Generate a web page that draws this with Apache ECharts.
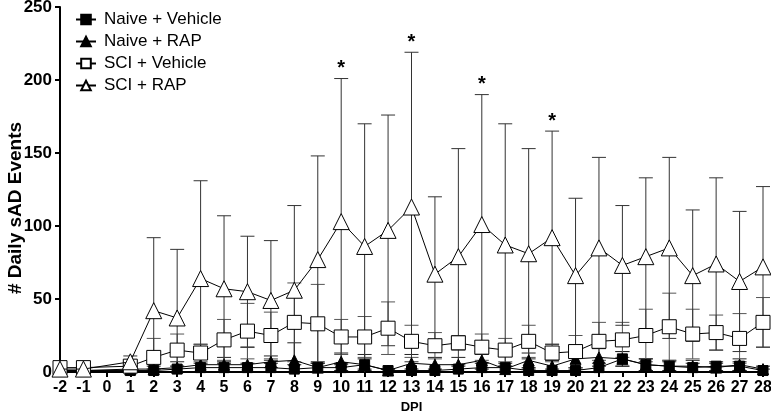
<!DOCTYPE html>
<html>
<head>
<meta charset="utf-8">
<script src="https://cdn.jsdelivr.net/npm/echarts@6/dist/echarts.min.js"></script>
<style>html,body{margin:0;padding:0;background:#fff}#c{width:771px;height:411px}</style>
</head>
<body>
<div id="c"></div>
<script>
const days = [-2,-1,1,2,3,4,5,6,7,8,9,10,11,12,13,14,15,16,17,18,19,20,21,22,23,24,25,26,27,28];
const xTicks = [-2,-1,0,1,2,3,4,5,6,7,8,9,10,11,12,13,14,15,16,17,18,19,20,21,22,23,24,25,26,27,28];
const yTicks = [0,50,100,150,200,250];

const naiveVehMean = [1,1,1,1,2,3,3,3,3,2,3,3,5,1,1,1,2,3,3,1,1,1,3,9,5,4,3,4,4,1];
const naiveVehSD   = [1,1,1,1,2,3,3,3,3,3,3,3,4,1,1,1,2,3,3,1,1,1,3,5,4,3,3,3,3,1];
const naiveRapMean = [1,1,2,2,3,5,5,5,7,8,3,7,5,1,6,5,5,8,2,8,4,9,10,9,5,4,4,3,5,2];
const naiveRapSD   = [1,1,2,2,4,14,5,12,4,12,4,6,7,1,6,5,5,6,2,5,4,6,6,5,4,4,4,3,4,2];
const sciVehMean   = [3,3,4,10,15,13,22,28,25,34,33,24,24,30,21,18,20,17,15,21,13,14,21,22,25,31,26,27,23,34];
const sciVehSD     = [1,1,3,13,11,6,14,19,16,27,27,12,14,18,11,9,5,9,8,11,6,11,13,12,18,23,17,12,17,17];
const sciRapMean   = [2,2,7,42,37,64,57,55,49,56,77,103,86,97,113,67,79,101,87,81,92,66,85,73,79,85,66,74,62,72];
const sciRapSD     = [2,2,4,50,47,67,50,38,41,58,71,98,84,79,106,53,74,89,83,72,73,53,62,41,54,62,45,59,48,55];
const sigDays = [10,13,16,19];

const names = ['Naive + Vehicle','Naive + RAP','SCI + Vehicle','SCI + RAP'];
const means = [naiveVehMean, naiveRapMean, sciVehMean, sciRapMean];
const sds = [naiveVehSD, naiveRapSD, sciVehSD, sciRapSD];
const symbols = ['rect','triangle','rect','triangle'];
const sizes = [10,11,14,16];
const fills = ['#000','#000','#fff','#fff'];
const barColors = ['#222','#222','#555','#333'];

const chart = echarts.init(document.getElementById('c'), null, {renderer:'canvas'});
const font = 'Arial, "Liberation Sans", Helvetica, sans-serif';

const series = [];
means.forEach((m, si) => {
  series.push({
    type: 'custom',
    name: names[si] + ' err',
    z: 1,
    silent: true,
    data: days.map((d, i) => [d, m[i], sds[si][i]]),
    renderItem: function (params, api) {
      const x = api.value(0), mv = api.value(1), sd = api.value(2);
      const top = api.coord([x, mv + sd]);
      const lowV = mv - sd;
      const bot = api.coord([x, Math.max(0, lowV)]);
      const cw = 7;
      const children = [
        {type:'line', shape:{x1:top[0], y1:top[1], x2:bot[0], y2:bot[1]}, style:{stroke:barColors[si], lineWidth:1}},
        {type:'line', shape:{x1:top[0]-cw, y1:top[1], x2:top[0]+cw, y2:top[1]}, style:{stroke:barColors[si], lineWidth:1}}
      ];
      if (lowV > 0) {
        children.push({type:'line', shape:{x1:bot[0]-cw, y1:bot[1], x2:bot[0]+cw, y2:bot[1]}, style:{stroke:barColors[si], lineWidth:1}});
      }
      return {type:'group', children: children};
    }
  });
});
means.forEach((m, si) => {
  series.push({
    type: 'line',
    name: names[si],
    z: 3 + si,
    data: days.map((d, i) => [d, m[i]]),
    symbol: symbols[si],
    symbolSize: sizes[si],
    showAllSymbol: true,
    lineStyle: {color:'#000', width:1},
    itemStyle: {color: fills[si], borderColor:'#000', borderWidth:1, opacity:1},
    emphasis: {disabled:true},
    animation: false
  });
});
series.push({
  type: 'custom',
  name: 'sig',
  z: 10,
  silent: true,
  data: sigDays.map(d => { const i = days.indexOf(d); return [d, sciRapMean[i] + sciRapSD[i]]; }),
  renderItem: function (params, api) {
    const p = api.coord([api.value(0), api.value(1)]);
    return {type:'text', x:p[0], y:p[1]-10, style:{text:'*', fill:'#000', font:'bold 20px ' + font, textAlign:'center', textVerticalAlign:'middle'}};
  }
});

chart.setOption({
  animation: false,
  backgroundColor: '#fff',
  grid: {left: 60, right: 8, top: 7, bottom: 39, containLabel: false, outerBoundsMode: 'none'},
  legend: {
    data: names,
    orient: 'vertical',
    left: 75,
    top: 11,
    padding: 0,
    itemWidth: 20,
    itemHeight: 12,
    itemGap: 5,
    textStyle: {fontSize: 17, lineHeight: 17, color:'#000', fontFamily: font, padding:[0,0,0,3]},
    selectedMode: false
  },
  graphic: [{
    type: 'text',
    rotation: Math.PI/2,
    style: {text: '# Daily sAD Events', fill:'#000', font: 'bold 19px ' + font, textAlign:'center', textVerticalAlign:'middle'},
    position: [16, 208]
  }],
  xAxis: {
    type: 'value',
    min: -2, max: 28, interval: 1,
    name: 'DPI',
    nameLocation: 'middle',
    nameGap: 26,
    nameTextStyle: {fontSize: 13, fontWeight:'bold', color:'#000', fontFamily: font},
    axisLine: {show:true, onZero:false, lineStyle:{color:'#000', width:2}},
    axisTick: {show:true, length:5, lineStyle:{color:'#000', width:2}},
    axisLabel: {fontSize: 16, fontWeight:'bold', color:'#000', margin: 8, fontFamily: font,
      formatter: v => xTicks.includes(v) ? String(v) : ''},
    splitLine: {show:false}
  },
  yAxis: {
    type: 'value',
    min: 0, max: 250, interval: 50,
    axisLine: {show:true, onZero:false, lineStyle:{color:'#000', width:2}},
    axisTick: {show:true, length:5, lineStyle:{color:'#000', width:2}},
    axisLabel: {fontSize: 17, fontWeight:'bold', color:'#000', margin: 8, fontFamily: font,
      formatter: v => yTicks.includes(v) ? String(v) : ''},
    splitLine: {show:false}
  },
  series: series
});
</script>
</body>
</html>
